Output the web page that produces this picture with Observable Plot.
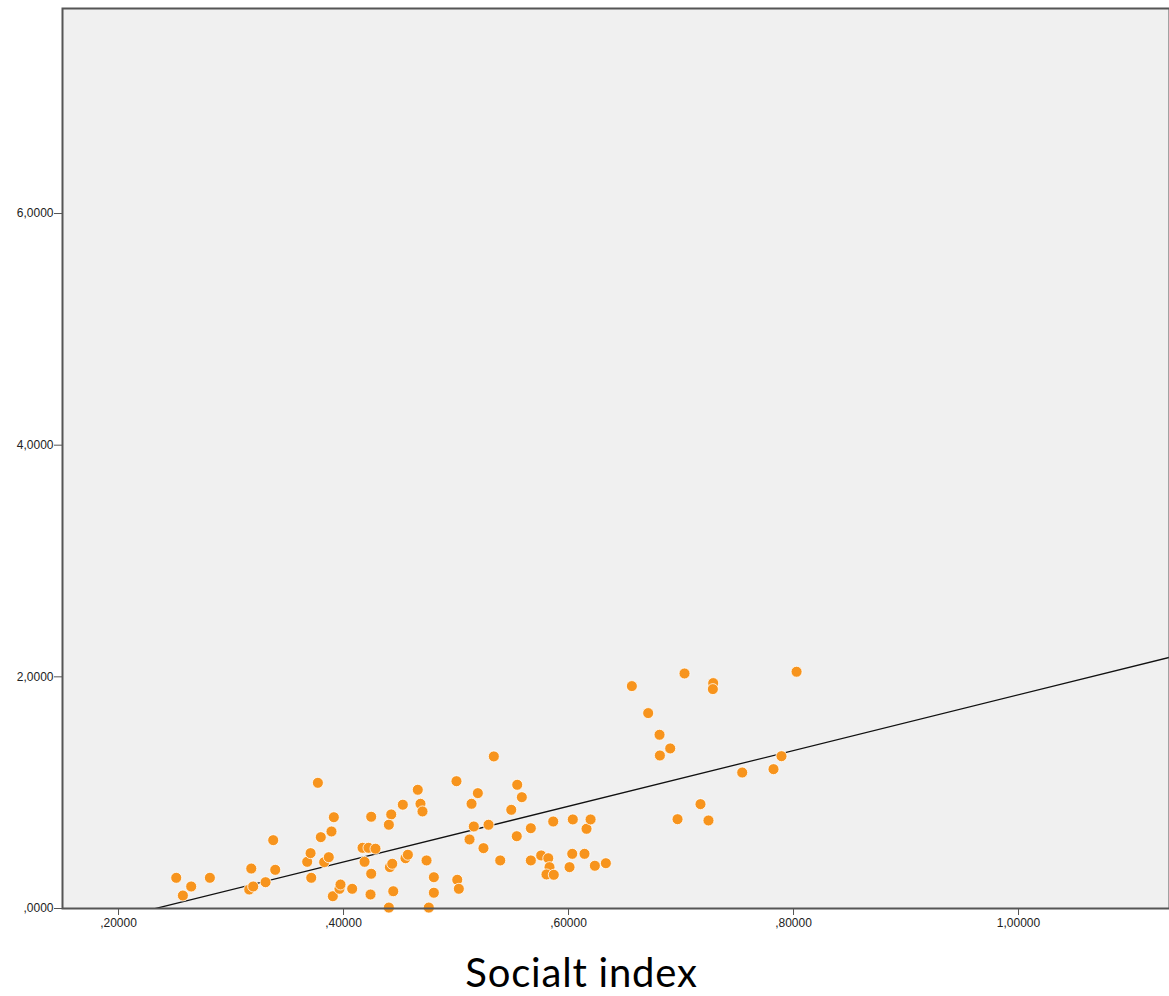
<!DOCTYPE html>
<html>
<head>
<meta charset="utf-8">
<script src="https://cdn.jsdelivr.net/npm/d3@7"></script>
<script src="https://cdn.jsdelivr.net/npm/@observablehq/plot@0.6"></script>
<style>
  html, body { margin: 0; padding: 0; background: #fff; }
  #wrap { width: 1169px; height: 940px; overflow: hidden; }
  #wrap svg { display: block; }
  #xlabel { width: 1163px; text-align: center; font-family: Lato, "Open Sans", sans-serif; font-size: 40px; letter-spacing: 0.8px; color: #000; line-height: 40px; margin-top: 12px; }
</style>
</head>
<body>
<div id="wrap"></div>
<div id="xlabel">Socialt index</div>
<script>
// Socialt index (x) and outcome (y)
const socialIndex = [
  0.2513, 0.2572, 0.2646, 0.2812, 0.3162, 0.3197, 0.3180, 0.3307, 0.3375, 0.3393,
  0.3677, 0.3707, 0.3713, 0.3772, 0.3798, 0.3828, 0.3869, 0.3893, 0.3914, 0.3905,
  0.3964, 0.3973, 0.4077, 0.4169, 0.4187, 0.4222, 0.4246, 0.4246, 0.4240, 0.4284,
  0.4424, 0.4403, 0.4412, 0.4433, 0.4442, 0.4403, 0.4527, 0.4551, 0.4572, 0.4660,
  0.4684, 0.4702, 0.4738, 0.4758, 0.4803, 0.4803, 0.5004, 0.5011, 0.5025, 0.5120,
  0.5138, 0.5158, 0.5194, 0.5244, 0.5289, 0.5336, 0.5393, 0.5491, 0.5544, 0.5585,
  0.5540, 0.5665, 0.5665, 0.5757, 0.5820, 0.5831, 0.5804, 0.5869, 0.5864, 0.6009,
  0.6033, 0.6038, 0.6142, 0.6160, 0.6196, 0.6234, 0.6332, 0.6563, 0.6708, 0.6809,
  0.6812, 0.6904, 0.7031, 0.6969, 0.7173, 0.7244, 0.7286, 0.7283, 0.7544, 0.7822,
  0.7893, 0.8027
];
const outcome = [
  0.265, 0.112, 0.190, 0.265, 0.164, 0.190, 0.345, 0.227, 0.590, 0.334,
  0.403, 0.478, 0.265, 1.085, 0.616, 0.400, 0.443, 0.665, 0.788, 0.106,
  0.170, 0.207, 0.170, 0.524, 0.403, 0.524, 0.792, 0.300, 0.121, 0.516,
  0.812, 0.723, 0.357, 0.386, 0.149, 0.008, 0.896, 0.434, 0.464, 1.025,
  0.904, 0.838, 0.415, 0.008, 0.270, 0.136, 1.099, 0.248, 0.170, 0.596,
  0.904, 0.708, 0.996, 0.521, 0.723, 1.313, 0.415, 0.852, 1.068, 0.961,
  0.624, 0.693, 0.415, 0.458, 0.434, 0.357, 0.294, 0.291, 0.751, 0.357,
  0.472, 0.769, 0.472, 0.688, 0.769, 0.369, 0.391, 1.920, 1.687, 1.500,
  1.321, 1.382, 2.029, 0.771, 0.901, 0.760, 1.946, 1.894, 1.174, 1.203,
  1.315, 2.044
];
// Fitted linear regression line
const fitIntercept = -0.560;
const fitSlope = 2.405;

const xTicks = [0.2, 0.4, 0.6, 0.8, 1.0];
const yTicks = [0, 2, 4, 6];
const xDomain = [0.1502, 1.1342];
const yDomain = [0, 7.77];

const points = socialIndex.map((x, i) => ({x, y: outcome[i]}));
const fitLine = xDomain.map(x => ({x, y: fitIntercept + fitSlope * x}));

const fmtX = d => d3.format(".5f")(d).replace(".", ",").replace(/^0,/, ",");
const fmtY = d => d3.format(".4f")(d).replace(".", ",").replace(/^0,/, ",");

const chart = Plot.plot({
  width: 1169,
  height: 940,
  marginLeft: 62,
  marginRight: 0,
  marginTop: 8,
  marginBottom: 32,
  style: {fontFamily: "Arial, 'Liberation Sans', sans-serif", fontSize: "12px", color: "#222", background: "#fff"},
  x: {domain: xDomain, label: null},
  y: {domain: yDomain, label: null},
  marks: [
    Plot.frame({fill: "#f0f0f0", stroke: null}),
    Plot.line(fitLine, {x: "x", y: "y", stroke: "#111", strokeWidth: 1.3, clip: true}),
    Plot.dot(points, {x: "x", y: "y", r: 5.5, fill: "#f7941d", stroke: "#fff", strokeWidth: 0.8}),
    Plot.axisX({ticks: xTicks, tickFormat: fmtX, tickSize: 7, tickPadding: 3, stroke: "#555", fill: "#222", label: null}),
    Plot.axisY({ticks: yTicks, tickFormat: fmtY, tickSize: 8, tickPadding: 1, stroke: "#555", fill: "#222", label: null}),
    Plot.frame({stroke: "#555", strokeWidth: 2, fill: null})
  ]
});
document.getElementById("wrap").appendChild(chart);
</script>
</body>
</html>
